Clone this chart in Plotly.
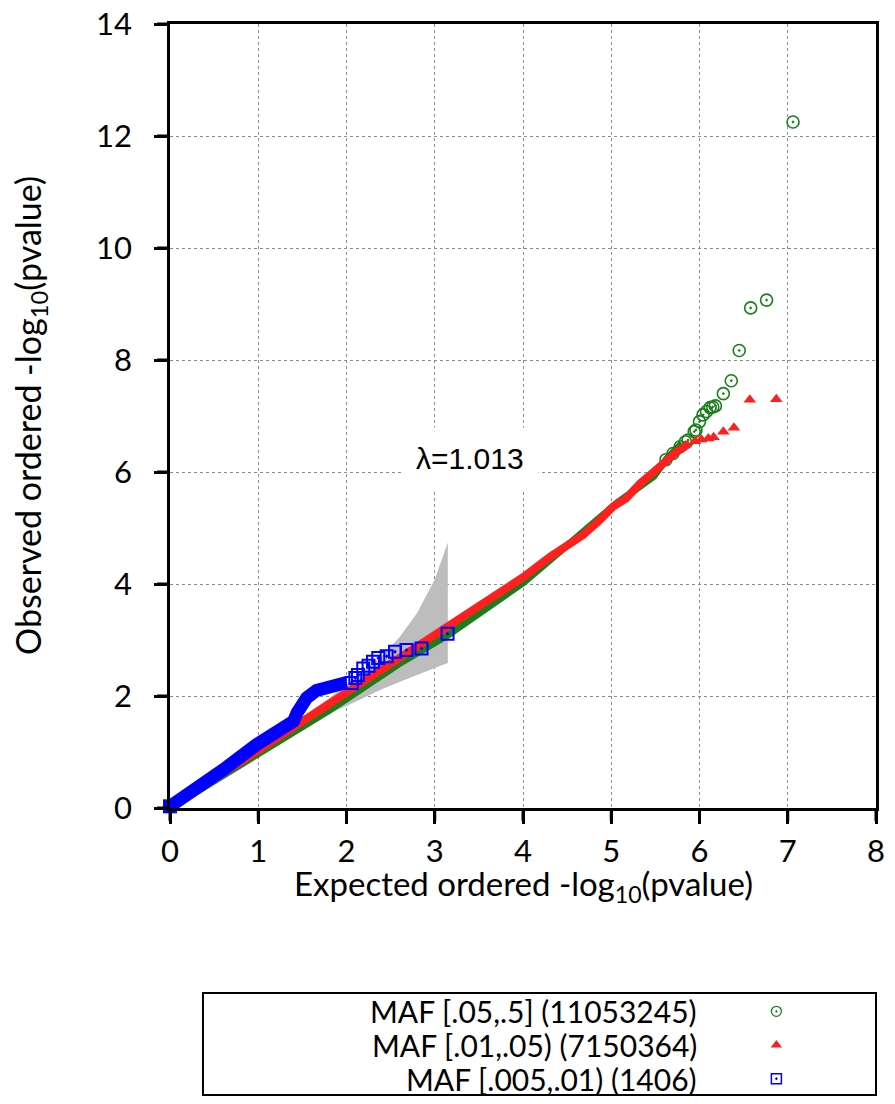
import plotly.graph_objects as go

# ---------------- data ----------------
# confidence band for MAF [.005,.01) set
band_x  = [1.0, 1.5, 1.81, 2.0, 2.2, 2.4, 2.6, 2.8, 3.0, 3.148]
band_lo = [0.93, 1.40, 1.70, 1.82, 1.97, 2.12, 2.25, 2.38, 2.50, 2.59]
band_hi = [1.08, 1.62, 1.97, 2.21, 2.45, 2.72, 3.05, 3.48, 4.08, 4.74]

# MAF [.05,.5]  (green, open circles)
green_bulk_x = [0, 1.0, 1.5, 1.81, 2.6, 3.15, 4.01, 4.72, 5.06, 5.48, 5.63, 5.8]
green_bulk_y = [0, 0.98, 1.45, 1.75, 2.58, 3.09, 4.03, 4.96, 5.44, 5.92, 6.24, 6.51]
green_tail_x = [5.62, 5.70, 5.78, 5.84, 5.87, 5.94, 5.96, 6.00, 6.04, 6.08, 6.12, 6.15, 6.18,
                6.27, 6.36, 6.45, 6.58, 6.76, 7.06]
green_tail_y = [6.22, 6.33, 6.45, 6.54, 6.57, 6.72, 6.75, 6.90, 7.02, 7.08, 7.15, 7.16, 7.18,
                7.40, 7.63, 8.17, 8.93, 9.07, 12.25]

# MAF [.01,.05)  (red, triangles)
red_bulk_x = [0, 1.0, 1.45, 1.81, 2.61, 3.15, 3.74, 4.01, 4.31, 4.68, 4.87, 5.02, 5.17,
              5.33, 5.48, 5.63, 5.74, 5.89]
red_bulk_y = [0, 1.02, 1.50, 1.87, 2.67, 3.24, 3.83, 4.13, 4.49, 4.875, 5.14, 5.38, 5.53,
              5.80, 6.00, 6.21, 6.36, 6.51]
red_tail_x = [5.95, 6.02, 6.10, 6.16, 6.27, 6.39, 6.57, 6.87]
red_tail_y = [6.55, 6.58, 6.60, 6.62, 6.72, 6.79, 7.29, 7.30]

# MAF [.005,.01)  (blue, squares)
blue_bulk_x = [0, 0.3, 0.6, 0.98, 1.13, 1.40, 1.44, 1.47, 1.55, 1.66, 1.85, 2.0]
blue_bulk_y = [0.03, 0.33, 0.68, 1.13, 1.27, 1.55, 1.70, 1.81, 1.97, 2.10, 2.20, 2.24]
blue_tail_x = [2.06, 2.10, 2.13, 2.19, 2.25, 2.30, 2.36, 2.455, 2.55, 2.68, 2.85, 3.145]
blue_tail_y = [2.23, 2.32, 2.375, 2.49, 2.54, 2.61, 2.68, 2.71, 2.79, 2.82, 2.85, 3.11]

legend_labels = ["MAF [.05,.5] (11053245)", "MAF [.01,.05) (7150364)", "MAF [.005,.01) (1406)"]
lambda_text = "λ=1.013"
x_title = "Expected ordered -log<sub>10</sub>(pvalue)"
y_title = "Observed ordered -log<sub>10</sub>(pvalue)"

x_range = [0, 8]
y_range = [0, 14]
x_ticks = [0, 1, 2, 3, 4, 5, 6, 7, 8]
y_ticks = [0, 2, 4, 6, 8, 10, 12, 14]

GREEN = "#1a7f1a"
RED = "#ff1f1f"
BLUE = "#0000ff"
GRAY = "#bdbdbd"
FONT = "Lato"

fig = go.Figure()

# confidence band
fig.add_trace(go.Scatter(x=band_x + band_x[::-1], y=band_hi + band_lo[::-1],
                         fill="toself", fillcolor=GRAY, line=dict(width=0),
                         mode="lines", hoverinfo="skip", showlegend=False))

# green
fig.add_trace(go.Scatter(x=green_bulk_x, y=green_bulk_y, mode="lines",
                         line=dict(color=GREEN, width=7), showlegend=False))
fig.add_trace(go.Scatter(x=green_tail_x, y=green_tail_y, mode="markers",
                         marker=dict(symbol="circle-open-dot", size=12, color=GREEN,
                                     line=dict(width=1.6, color=GREEN)),
                         showlegend=False, cliponaxis=False))
# red
fig.add_trace(go.Scatter(x=red_bulk_x, y=red_bulk_y, mode="lines",
                         line=dict(color=RED, width=8), showlegend=False))
fig.add_trace(go.Scatter(x=red_tail_x, y=red_tail_y, mode="markers",
                         marker=dict(symbol="triangle-up", size=11, color=RED,
                                     line=dict(width=0)),
                         showlegend=False, cliponaxis=False))
# blue
fig.add_trace(go.Scatter(x=blue_bulk_x, y=blue_bulk_y, mode="lines",
                         line=dict(color=BLUE, width=13), showlegend=False))
fig.add_trace(go.Scatter(x=blue_bulk_x[:1], y=blue_bulk_y[:1], mode="markers",
                         marker=dict(symbol="square", size=14, color=BLUE),
                         showlegend=False, cliponaxis=False))
fig.add_trace(go.Scatter(x=blue_tail_x, y=blue_tail_y, mode="markers",
                         marker=dict(symbol="square-open-dot", size=12, color=BLUE,
                                     line=dict(width=2, color=BLUE)),
                         showlegend=False, cliponaxis=False))

# manual legend (text left, symbol right) on its own axes
leg_y = [0.82, 0.49, 0.16]
leg_sym = [dict(symbol="circle-open-dot", size=10, color=GREEN, line=dict(width=1.3, color=GREEN)),
           dict(symbol="triangle-up", size=10, color=RED, line=dict(width=0)),
           dict(symbol="square-open-dot", size=10, color=BLUE, line=dict(width=1.5, color=BLUE))]
for lab, yy, sym in zip(legend_labels, leg_y, leg_sym):
    fig.add_trace(go.Scatter(x=[0.852], y=[yy], mode="markers", marker=sym,
                             xaxis="x2", yaxis="y2", showlegend=False, hoverinfo="skip"))
    fig.add_annotation(x=0.737, y=yy, xref="x2", yref="y2", text=lab, showarrow=False,
                       xanchor="right", yanchor="middle",
                       font=dict(family=FONT, size=30, color="black"))
fig.add_shape(type="rect", xref="x2 domain", yref="y2 domain", x0=0, x1=1, y0=0, y1=1,
              line=dict(color="black", width=2))

# outside tick marks (pixel-length lines hung on the axis domain)
for v in x_ticks:
    f = (v - x_range[0]) / (x_range[1] - x_range[0])
    fig.add_shape(type="line", xref="x domain", yref="y domain", x0=f, x1=f,
                  ysizemode="pixel", yanchor=0, y0=0, y1=-13, layer="above",
                  line=dict(color="black", width=3))
for v in y_ticks:
    f = (v - y_range[0]) / (y_range[1] - y_range[0])
    fig.add_shape(type="line", xref="x domain", yref="y domain", y0=f, y1=f,
                  xsizemode="pixel", xanchor=0, x0=0, x1=-13, layer="above",
                  line=dict(color="black", width=3))

# lambda label
fig.add_annotation(x=3.4, y=6.24, xref="x", yref="y", text=lambda_text, showarrow=False,
                   font=dict(family="Liberation Sans, Arial", size=30, color="black"),
                   bgcolor="white", borderpad=14, xanchor="center", yanchor="middle")

# axis titles
fig.add_annotation(x=0.5, y=0.1952, xref="paper", yref="paper", text=x_title,
                   showarrow=False, xanchor="center", yanchor="middle",
                   font=dict(family=FONT, size=33, color="black"))
fig.add_annotation(x=-0.1983, y=0.634, xref="paper", yref="paper", text=y_title,
                   showarrow=False, xanchor="center", yanchor="middle", textangle=-90,
                   font=dict(family=FONT, size=34, color="black"))

axis_main = dict(showline=True, linecolor="black", linewidth=2.5, mirror=True,
                 ticks="outside", ticklen=13, tickwidth=2.5, tickcolor="black",
                 showgrid=True, gridcolor="#8c8c8c", gridwidth=1, griddash="3px,3px",
                 zeroline=False, ticklabeloverflow="allow",
                 tickfont=dict(family=FONT, size=31, color="black"))

# page body has an 8px margin: figure sits at (8, 8) and is sized to fit the window
fig.update_layout(
    width=879, height=1088,
    margin=dict(l=162, r=11, t=16, b=1, autoexpand=False),
    paper_bgcolor="white", plot_bgcolor="white",
    xaxis=dict(range=x_range, tickvals=x_ticks, domain=[0, 1], anchor="y",
               ticklabelstandoff=1, **axis_main),
    yaxis=dict(range=y_range, tickvals=y_ticks, domain=[0.26797, 1], anchor="x",
               ticklabelstandoff=16, **axis_main),
    xaxis2=dict(range=[0, 1], domain=[0.0467, 1], anchor="y2", visible=False, fixedrange=True),
    yaxis2=dict(range=[0, 1], domain=[0, 0.09524], anchor="x2", visible=False, fixedrange=True),
    showlegend=False,
)

fig.write_html("out.html")
